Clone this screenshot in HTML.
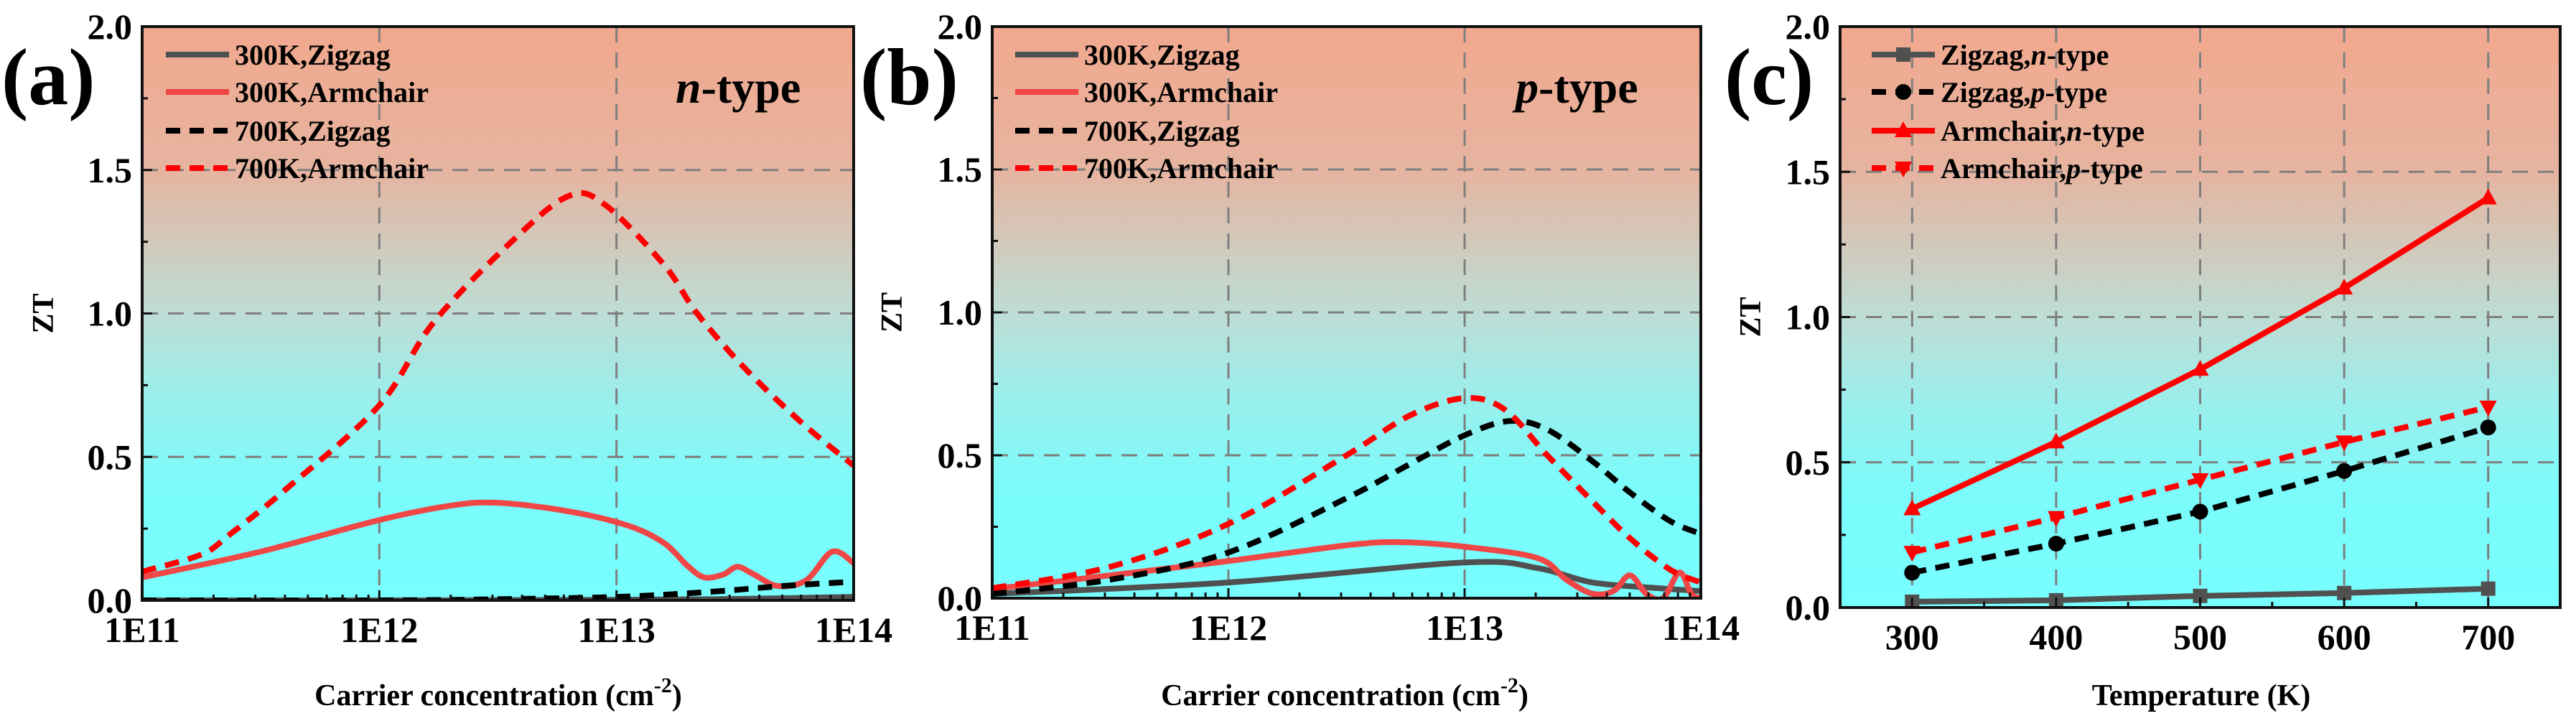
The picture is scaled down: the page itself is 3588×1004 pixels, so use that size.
<!DOCTYPE html>
<html><head><meta charset="utf-8"><style>
html,body{margin:0;padding:0;background:#fff;}
svg{display:block;}
text{font-family:"Liberation Serif","DejaVu Serif",serif;font-weight:bold;}
</style></head><body>
<svg id="fig" width="3588" height="1004" viewBox="0 0 3588 1004" xmlns="http://www.w3.org/2000/svg" font-family="Liberation Serif, serif" font-weight="bold">
<defs>
<linearGradient id="bg" x1="0" y1="0" x2="0" y2="1">
<stop offset="0" stop-color="#F1A88E"/><stop offset="0.25" stop-color="#E6B4A0"/>
<stop offset="0.5" stop-color="#BEDDD5"/><stop offset="0.65" stop-color="#9AEFEC"/>
<stop offset="0.8" stop-color="#7CFBFB"/><stop offset="1" stop-color="#77FFFF"/>
</linearGradient>
</defs>
</svg>
<script>
// Panel (a) n-type, x = log10(carrier concentration)
const aX_arm700 = [11.0,11.25,11.37,11.61,12.0,12.23,12.57,12.8,12.95,13.2,13.34,13.54,13.78,14.0];
const aY_arm700 = [0.10,0.16,0.23,0.39,0.68,0.97,1.26,1.41,1.38,1.17,1.0,0.81,0.62,0.47];
const aX_arm300 = [11.0,11.5,12.0,12.3,12.5,12.8,13.05,13.2,13.3,13.37,13.45,13.51,13.58,13.68,13.8,13.91,14.0];
const aY_arm300 = [0.08,0.17,0.28,0.33,0.34,0.31,0.26,0.2,0.12,0.08,0.09,0.117,0.09,0.05,0.07,0.17,0.13];
const aX_zz700 = [11.0,12.0,12.5,13.0,13.4,13.7,14.0];
const aY_zz700 = [0.0,0.0,0.004,0.012,0.03,0.05,0.065];
const aX_zz300 = [11.0,12.0,13.0,13.5,14.0];
const aY_zz300 = [0.0,0.0,0.002,0.005,0.012];
// Panel (b) p-type
const bX_arm700 = [11.0,11.5,12.0,12.5,12.77,13.0,13.17,13.35,13.54,13.7,13.87,14.0];
const bY_arm700 = [0.035,0.11,0.26,0.50,0.64,0.70,0.66,0.50,0.34,0.21,0.10,0.055];
const bX_zz700 = [11.0,11.5,12.0,12.5,12.77,13.0,13.19,13.35,13.54,13.7,13.87,14.0];
const bY_zz700 = [0.015,0.065,0.16,0.35,0.47,0.57,0.62,0.59,0.48,0.37,0.27,0.225];
const bX_arm300 = [11.0,11.5,12.0,12.5,12.73,13.0,13.31,13.43,13.54,13.63,13.70,13.77,13.84,13.91,13.96,14.0];
const bY_arm300 = [0.032,0.08,0.13,0.185,0.196,0.18,0.14,0.065,0.016,0.025,0.08,0.015,0.0,0.09,0.015,0.0];
const bX_zz300 = [11.0,12.0,13.0,13.31,13.54,13.82,14.0];
const bY_zz300 = [0.015,0.055,0.125,0.105,0.055,0.035,0.025];
// Panel (c) temperature dependence
const cTemps = [300,400,500,600,700];
const cZigN = [0.02,0.025,0.04,0.05,0.065];
const cZigP = [0.12,0.22,0.33,0.47,0.62];
const cArmN = [0.34,0.57,0.82,1.10,1.41];
const cArmP = [0.19,0.31,0.44,0.57,0.69];
const yTicks = ["0.0","0.5","1.0","1.5","2.0"];
const logTicks = ["1E11","1E12","1E13","1E14"];
const tempTicks = ["300","400","500","600","700"];

const NS="http://www.w3.org/2000/svg";
const svg=document.getElementById('fig');
function mk(tag,attrs,parent){const e=document.createElementNS(NS,tag);for(const k in attrs)e.setAttribute(k,attrs[k]);if(tag==='text'){e.setAttribute('font-family','Liberation Serif, serif');e.setAttribute('font-weight','bold');}(parent||svg).appendChild(e);return e;}
function smooth(pts){let d=`M${pts[0][0]},${pts[0][1]}`;for(let i=0;i<pts.length-1;i++){const p0=pts[i-1]||pts[i],p1=pts[i],p2=pts[i+1],p3=pts[i+2]||p2;
const c1=[p1[0]+(p2[0]-p0[0])/6,p1[1]+(p2[1]-p0[1])/6],c2=[p2[0]-(p3[0]-p1[0])/6,p2[1]-(p3[1]-p1[1])/6];
d+=` C${c1[0]},${c1[1]} ${c2[0]},${c2[1]} ${p2[0]},${p2[1]}`;}return d;}

function panel(p){
  const g=mk('g',{});
  
  
  const X=v=>p.x0+(v-p.xmin)/(p.xmax-p.xmin)*(p.x1-p.x0);
  const Y=v=>p.y1-(v/2)*(p.y1-p.y0);
  const bg=mk('rect',{x:p.x0,y:p.y0,width:p.x1-p.x0,height:p.y1-p.y0,fill:'url(#bg)'},g);
  
  
  [0.5,1.0,1.5].forEach(v=>{const l=mk('line',{x1:p.x0,x2:p.x1,y1:Y(v),y2:Y(v),stroke:'#7f7f7f','stroke-width':3,'stroke-dasharray':'22 14'},g);
    
    });
  p.gridX.forEach(v=>{const l=mk('line',{x1:X(v),x2:X(v),y1:p.y0,y2:p.y1,stroke:'#7f7f7f','stroke-width':3,'stroke-dasharray':'22 14'},g);
    
    });
  const clip=mk('clipPath',{id:'clip'+p.name},g);mk('rect',{x:p.x0,y:p.y0,width:p.x1-p.x0,height:p.y1-p.y0},clip);
  p.series.forEach(s=>{
    const pts=s.xs.map((x,i)=>[X(x),Y(s.ys[i])]);
    const d=p.linear?'M'+pts.map(q=>q.join(',')).join(' L'):smooth(pts);
    const path=mk('path',{d:d,fill:'none',stroke:s.color,'stroke-width':8,'stroke-dasharray':s.dash?'20 13':'none','clip-path':`url(#clip${p.name})`},g);
    
    
    if(s.marker)pts.forEach(q=>{const m=marker(s.marker,q[0],q[1],s.color,g);
      
      });
  });
  const fr=mk('rect',{x:p.x0,y:p.y0,width:p.x1-p.x0,height:p.y1-p.y0,fill:'none',stroke:'#111','stroke-width':4},g);
  
  
  for(let v=0;v<=2.001;v+=0.25){const major=Math.abs(v*2-Math.round(v*2))<0.01;
    mk('line',{x1:p.x0,x2:p.x0+(major?14:8),y1:Y(v),y2:Y(v),stroke:'#111','stroke-width':3},g);}
  yTicks.forEach((t,i)=>{const tx=mk('text',{x:p.x0-14,y:Y(i*0.5)+17,'text-anchor':'end','font-size':50},g);tx.textContent=t;
    
    });
  p.xMinor.forEach(v=>mk('line',{x1:X(v),x2:X(v),y1:p.y1,y2:p.y1-8,stroke:'#111','stroke-width':3},g));
  p.xMajor.forEach((v,i)=>{mk('line',{x1:X(v),x2:X(v),y1:p.y1,y2:p.y1-14,stroke:'#111','stroke-width':3},g);
    const tx=mk('text',{x:X(v),y:p.y1+58,'text-anchor':'middle','font-size':50},g);tx.textContent=p.xLabels[i];
    
    });
  const yt=mk('text',{x:0,y:0,transform:`translate(${p.ytx},${(p.y0+p.y1)/2}) rotate(-90)`,'text-anchor':'middle','font-size':42},g);yt.textContent='ZT';
  
  
  const xt=mk('text',{x:p.xtx,y:982,'text-anchor':'middle','font-size':42},g);
  
  
  if(p.carrier){xt.textContent='Carrier concentration (cm';const sp=mk('tspan',{dy:-18,'font-size':30},xt);sp.textContent='-2';const sp2=mk('tspan',{dy:18},xt);sp2.textContent=')';}
  else xt.textContent='Temperature (K)';
  const pl=mk('text',{x:p.lx,y:145,'font-size':112},g);pl.textContent=p.label;
  
  
  if(p.type){const tt=mk('text',{x:p.tx,y:143,'font-size':64},g);const it=mk('tspan',{'font-style':'italic'},tt);it.textContent=p.type[0];const r=mk('tspan',{},tt);r.textContent=p.type.slice(1);
    
    }
  const rows=[76,128,182,234];
  p.series.forEach((s,i)=>{const lg=mk('g',{},g);
    
    
    mk('line',{x1:p.legX,x2:p.legX+88,y1:rows[i],y2:rows[i],stroke:s.color,'stroke-width':8,'stroke-dasharray':s.dash?'20 13':'none'},lg);
    if(s.marker)marker(s.marker,p.legX+44,rows[i],s.color,lg);
    const tx=mk('text',{x:p.legX+96,y:rows[i]+14,'font-size':40},lg);
    if(s.legendItalic){const a=mk('tspan',{},tx);a.textContent=s.legendItalic[0];const b=mk('tspan',{'font-style':'italic'},tx);b.textContent=s.legendItalic[1];const c=mk('tspan',{},tx);c.textContent=s.legendItalic[2];}
    else tx.textContent=s.label;});
}
function marker(type,x,y,color,parent){
  if(type==='square')return mk('rect',{x:x-10,y:y-10,width:20,height:20,fill:color},parent);
  if(type==='circle')return mk('circle',{cx:x,cy:y,r:11,fill:color},parent);
  if(type==='up')return mk('polygon',{points:`${x},${y-13} ${x-12},${y+9} ${x+12},${y+9}`,fill:color},parent);
  return mk('polygon',{points:`${x},${y+13} ${x-12},${y-9} ${x+12},${y-9}`,fill:color},parent);
}
function logMinor(){const a=[];for(let d=11;d<14;d++)for(let k=2;k<=9;k++)a.push(d+Math.log10(k));return a;}
const GRAY='#505050',RED1='#F04646',RED2='#FF0000',BLK='#000';
panel({name:'panel-a-ntype',x0:198,x1:1189,y0:37,y1:836,xmin:11,xmax:14,gridX:[12,13],xMajor:[11,12,13,14],xLabels:logTicks,xMinor:logMinor(),
  ytx:74,xtx:694,carrier:true,label:'(a)',lx:2,type:'n-type',tx:941,legX:231,
  series:[{id:'300k-zigzag-line',label:'300K,Zigzag',xs:aX_zz300,ys:aY_zz300,color:GRAY},
   {id:'300k-armchair-line',label:'300K,Armchair',xs:aX_arm300,ys:aY_arm300,color:RED1},
   {id:'700k-zigzag-line',label:'700K,Zigzag',xs:aX_zz700,ys:aY_zz700,color:BLK,dash:true},
   {id:'700k-armchair-line',label:'700K,Armchair',xs:aX_arm700,ys:aY_arm700,color:RED2,dash:true}]});
panel({name:'panel-b-ptype',x0:1382,x1:2369,y0:37,y1:833,xmin:11,xmax:14,gridX:[12,13],xMajor:[11,12,13,14],xLabels:logTicks,xMinor:logMinor(),
  ytx:1256,xtx:1873,carrier:true,label:'(b)',lx:1198,type:'p-type',tx:2111,legX:1414,
  series:[{id:'300k-zigzag-line',label:'300K,Zigzag',xs:bX_zz300,ys:bY_zz300,color:GRAY},
   {id:'300k-armchair-line',label:'300K,Armchair',xs:bX_arm300,ys:bY_arm300,color:RED1},
   {id:'700k-zigzag-line',label:'700K,Zigzag',xs:bX_zz700,ys:bY_zz700,color:BLK,dash:true},
   {id:'700k-armchair-line',label:'700K,Armchair',xs:bX_arm700,ys:bY_arm700,color:RED2,dash:true}]});
panel({name:'panel-c-temperature',x0:2563,x1:3566,y0:37,y1:846,xmin:250,xmax:750,gridX:cTemps,xMajor:cTemps,xLabels:tempTicks,xMinor:[350,450,550,650],
  ytx:2452,xtx:3066,carrier:false,label:'(c)',lx:2402,linear:true,legX:2607,
  series:[{id:'zigzag-ntype-line',legendItalic:['Zigzag,','n','-type'],xs:cTemps,ys:cZigN,color:GRAY,marker:'square'},
   {id:'zigzag-ptype-line',legendItalic:['Zigzag,','p','-type'],xs:cTemps,ys:cZigP,color:BLK,dash:true,marker:'circle'},
   {id:'armchair-ntype-line',legendItalic:['Armchair,','n','-type'],xs:cTemps,ys:cArmN,color:RED2,marker:'up'},
   {id:'armchair-ptype-line',legendItalic:['Armchair,','p','-type'],xs:cTemps,ys:cArmP,color:RED2,dash:true,marker:'down'}]});
</script>
</body></html>
